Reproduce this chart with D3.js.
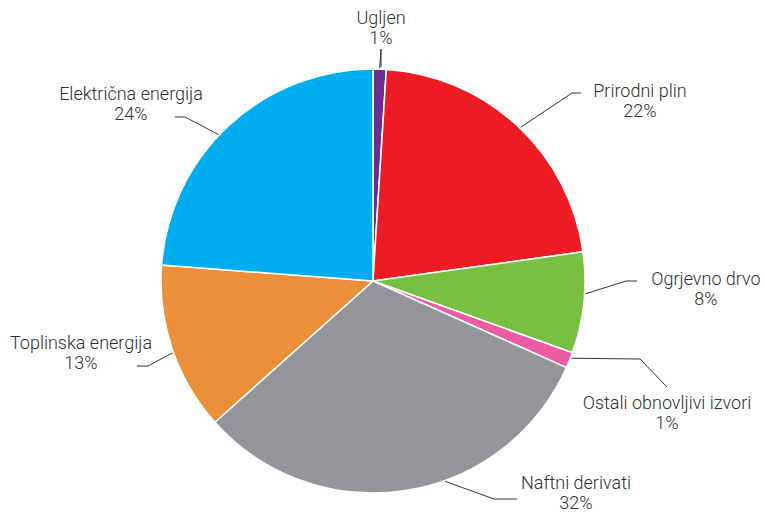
<!DOCTYPE html>
<html>
<head>
<meta charset="utf-8">
<script src="https://cdn.jsdelivr.net/npm/d3@7"></script>
<style>
  body { margin: 0; background: #fff; }
  text { font-family: Roboto, "Noto Sans", sans-serif; font-size: 18px; font-weight: 300; fill: #2e2e2e; }
</style>
</head>
<body>
<div id="chart-area"></div>
<script>
var width = 765;
var height = 513;

// data
var categories = ["Ugljen", "Prirodni plin", "Ogrjevno drvo", "Ostali obnovljivi izvori",
                  "Naftni derivati", "Toplinska energija", "Električna energija"];
var values = [1.0, 21.8, 7.7, 1.2, 31.7, 12.8, 23.8];
var percentLabels = ["1%", "22%", "8%", "1%", "32%", "13%", "24%"];
var colors = ["#6c2d91", "#ed1c24", "#77c043", "#ee5ba5", "#939598", "#eb8f3b", "#00aeef"];

// label layout: leader start angle nudge (deg), elbow, end of leader, text centre (relative to pie centre)
var labelLayout = [
  { nudge: 0,    elbow: [8, -232],   end: [8, -214],   text: [8, -257] },
  { nudge: 1,    elbow: [199, -188], end: [208, -188], text: [267, -184] },
  { nudge: -2.5, elbow: [253, 0],    end: [264, 0],    text: [333, 4] },
  { nudge: -0.7, elbow: [267, 78],   end: [294, 106],  text: [294, 128] },
  { nudge: -11,  elbow: [121, 218],  end: [144, 218],  text: [203, 208] },
  { nudge: -1,   elbow: [-225, 85],  end: [-236, 85],  text: [-292, 68] },
  { nudge: -3.7, elbow: [-188, -164],end: [-198, -164],text: [-242, -181] }
];

var cx = 373, cy = 281, radius = 212;

var svg = d3.select("#chart-area")
  .append("svg")
  .attr("width", width)
  .attr("height", height);

var g = svg.append("g").attr("transform", "translate(" + cx + "," + cy + ")");

var pie = d3.pie().sort(null).value(function(d) { return d; });
var arcs = pie(values);

var arc = d3.arc().innerRadius(0).outerRadius(radius);

// slices
g.selectAll("path.slice")
  .data(arcs)
  .enter()
  .append("path")
  .attr("class", "slice")
  .attr("d", arc)
  .attr("fill", function(d, i) { return colors[i]; })
  .attr("stroke", "#fff")
  .attr("stroke-width", 1.5)
  .attr("stroke-linejoin", "round");

// leader lines
g.selectAll("polyline")
  .data(arcs)
  .enter()
  .append("polyline")
  .attr("points", function(d, i) {
    var L = labelLayout[i];
    var a = (d.startAngle + d.endAngle) / 2 + L.nudge * Math.PI / 180;
    var r = radius + 1;
    var start = [r * Math.sin(a), -r * Math.cos(a)];
    return [start, L.elbow, L.end].map(function(p) { return p.join(","); }).join(" ");
  })
  .attr("fill", "none")
  .attr("stroke", "#333")
  .attr("stroke-width", 1);

// labels
var labels = g.selectAll("text.label")
  .data(arcs)
  .enter()
  .append("text")
  .attr("class", "label")
  .attr("text-anchor", "middle")
  .attr("transform", function(d, i) {
    return "translate(" + labelLayout[i].text[0] + "," + labelLayout[i].text[1] + ")";
  });

labels.append("tspan")
  .attr("x", 0)
  .attr("y", 0)
  .text(function(d, i) { return categories[i]; });

labels.append("tspan")
  .attr("x", 0)
  .attr("y", 20)
  .text(function(d, i) { return percentLabels[i]; });
</script>
</body>
</html>
